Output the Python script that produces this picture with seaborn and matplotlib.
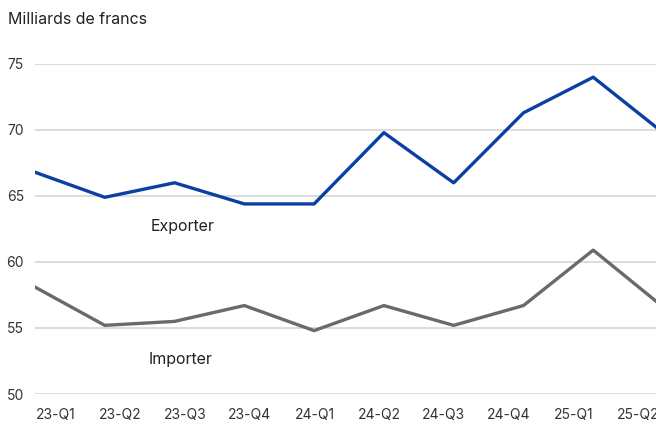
import numpy as np
import pandas as pd
import seaborn as sns
import matplotlib.pyplot as plt

quarters = ['23-Q1', '23-Q2', '23-Q3', '23-Q4', '24-Q1', '24-Q2', '24-Q3', '24-Q4', '25-Q1', '25-Q2']
exports = [66.8, 64.9, 66.0, 64.4, 64.4, 69.8, 66.0, 71.3, 74.0, 69.8]
imports = [58.1, 55.2, 55.5, 56.7, 54.8, 56.7, 55.2, 56.7, 60.9, 56.6]

df = pd.DataFrame({
    'pos': list(range(len(quarters))) * 2,
    'value': exports + imports,
    'serie': ['Exporter'] * len(quarters) + ['Importer'] * len(quarters),
})

sns.set_style('white')
plt.rcParams['font.family'] = ['Inter', 'DejaVu Sans']

fig = plt.figure(figsize=(6.56, 4.25), dpi=100)
# the source is cropped on the right, so the axes run past the figure edge
ax = fig.add_axes([35 / 656, 31 / 425, 628 / 656, 330 / 425])

sns.lineplot(data=df, x='pos', y='value', hue='serie',
             palette={'Exporter': '#0b3fa3', 'Importer': '#6a6a6a'},
             linewidth=2.4, legend=False, ax=ax)

ax.set_xlim(0, len(quarters) - 1)
ax.set_ylim(50, 75)
ax.set_yticks([50, 55, 60, 65, 70, 75])
ax.yaxis.grid(True, color='#d6d6d6', linewidth=1.2)
ax.set_axisbelow(True)
for s in ax.spines.values():
    s.set_visible(False)

# quarter labels sit on a slightly narrower band than the line points
ax.set_xticks(np.linspace(0.3, 8.64, len(quarters)))
ax.set_xticklabels(quarters)
ax.tick_params(axis='both', length=0, labelsize=10, labelcolor='#333333')
ax.tick_params(axis='x', pad=10)
ax.tick_params(axis='y', pad=8)
ax.set_xlabel('')
ax.set_ylabel('')

ax.text(1.65, 62.7, 'Exporter', fontsize=11.5, color='#222222', va='center', ha='left')
ax.text(1.63, 52.6, 'Importer', fontsize=11.5, color='#222222', va='center', ha='left')

fig.text(8 / 656, 1 - 20 / 425, 'Milliards de francs', fontsize=11.5, color='#222222',
         va='center', ha='left')

fig.savefig('out.png', dpi=100)
